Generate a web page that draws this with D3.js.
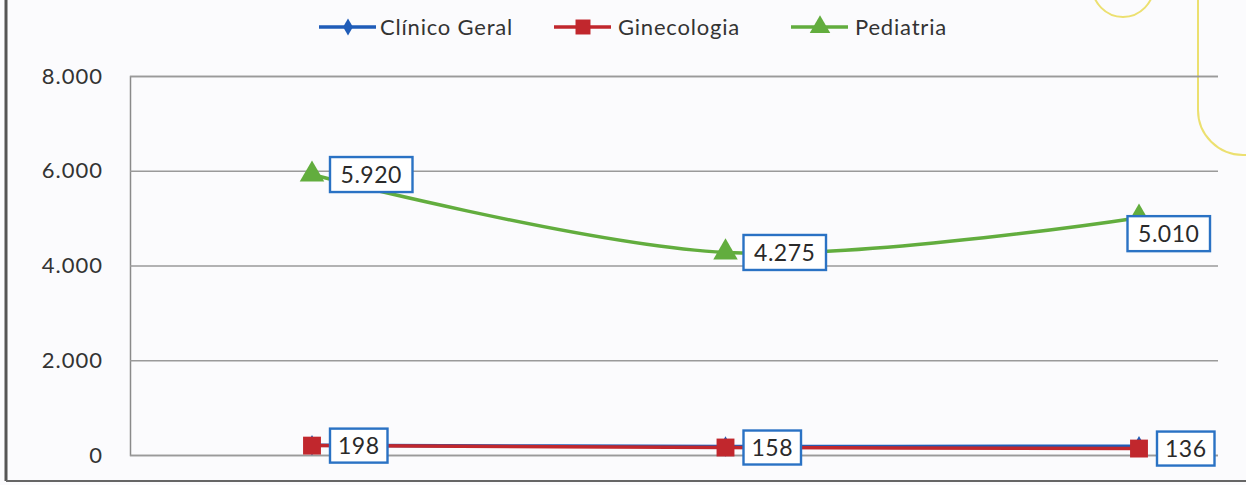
<!DOCTYPE html>
<html><head><meta charset="utf-8">
<script src="https://cdn.jsdelivr.net/npm/d3@7"></script>
<style>html,body{margin:0;padding:0;background:#fbfbfd;}svg{display:block;}</style>
</head><body><svg id="c" width="1246" height="485"></svg>
<script>
const categories = ["1", "2", "3"];
const clinicoGeral = [205, 180, 185];
const ginecologia = [198, 158, 136];
const pediatria = [5920, 4275, 5010];
const yTicks = [0, 2000, 4000, 6000, 8000];
const seriesNames = ["Clínico Geral", "Ginecologia", "Pediatria"];

(function () {
const colors = {"Clínico Geral": "#1f5cb8", "Ginecologia": "#c1272d", "Pediatria": "#62ad3e"};
const font = "Lato, 'Open Sans', sans-serif";
const svg = d3.select("#c");

const W = 1246, H = 485;
const pLeft = 130, pRight = 1218, pTop = 76, pBottom = 455;
const x = d3.scalePoint().domain(categories).range([312, 1139]).padding(0);
const y = d3.scaleLinear().domain([0, 8000]).range([pBottom, pTop]);

svg.append("rect").attr("width", W).attr("height", H).attr("fill", "#fbfbfd");

// decorative yellow shapes (scan)
svg.append("ellipse").attr("cx", 1123).attr("cy", -15).attr("rx", 31).attr("ry", 32)
  .attr("fill", "none").attr("stroke", "#ece070").attr("stroke-width", 2);
svg.append("path").attr("d", "M1198,0 V110 A45,45 0 0 0 1243,155 H1260")
  .attr("fill", "none").attr("stroke", "#ece070").attr("stroke-width", 2);

// frame
svg.append("line").attr("x1", 6).attr("x2", 6).attr("y1", 0).attr("y2", 481).attr("stroke", "#555").attr("stroke-width", 3);
svg.append("line").attr("x1", 6).attr("x2", W).attr("y1", 481).attr("y2", 481).attr("stroke", "#666").attr("stroke-width", 2);

// gridlines + axis
const yAxis = d3.axisLeft(y).tickValues(yTicks).tickSize(-(pRight - pLeft))
  .tickFormat(d => d3.format(",")(d).replace(/,/g, "."));
const ga = svg.append("g").attr("transform", `translate(${pLeft},0)`).call(yAxis);
ga.select(".domain").attr("stroke", "#8a8a8a").attr("stroke-width", 1.5);
ga.selectAll(".tick line").attr("stroke", "#9a9a9a").attr("stroke-width", 1.5);
ga.selectAll(".tick text").attr("x", -27).attr("font-family", font).attr("font-size", 22)
  .attr("letter-spacing", 1).attr("fill", "#333");

const data = [
  {name: seriesNames[0], values: clinicoGeral, marker: d3.symbolDiamond, size: 120},
  {name: seriesNames[1], values: ginecologia, marker: d3.symbolSquare, size: 320},
  {name: seriesNames[2], values: pediatria, marker: d3.symbolTriangle, size: 260}
];

const line = d3.line().x((d, i) => x(categories[i])).y(d => y(d)).curve(d3.curveCatmullRom.alpha(0.5));

data.forEach(s => {
  svg.append("path").datum(s.values).attr("d", line).attr("fill", "none")
    .attr("stroke", colors[s.name]).attr("stroke-width", 3.5);
});
data.forEach(s => {
  svg.selectAll(null).data(s.values).enter().append("path")
    .attr("d", d3.symbol().type(s.marker).size(s.size))
    .attr("transform", (d, i) => `translate(${x(categories[i])},${y(d)})`)
    .attr("fill", colors[s.name]);
});

function labels(values, boxH, fsize) {
  values.forEach((v, i) => {
    const px = x(categories[i]), py = y(v);
    const txt = d3.format(",")(v).replace(/,/g, ".");
    const w = txt.length * 12.5 + 20;
    let bx = px + 18;
    let cy = py;
    if (bx + w > pRight + 2) { bx = pRight - 8 - w; cy = py + 16; }
    svg.append("rect").attr("x", bx).attr("y", cy - boxH / 2).attr("width", w).attr("height", boxH)
      .attr("fill", "#fff").attr("stroke", "#2a72c4").attr("stroke-width", 2.4);
    svg.append("text").attr("x", bx + w / 2).attr("y", cy).attr("dy", "0.36em")
      .attr("text-anchor", "middle").attr("font-family", font).attr("font-size", fsize)
      .attr("letter-spacing", 0.5).attr("fill", "#2a2a2a").text(txt);
  });
}
labels(pediatria, 35, 23);
labels(ginecologia, 34, 23);

// legend
const legX = [319, 554, 791];
const legY = 27;
data.forEach((s, i) => {
  const g = svg.append("g").attr("transform", `translate(${legX[i]},${legY})`);
  g.append("line").attr("x1", 0).attr("x2", 57).attr("stroke", colors[s.name]).attr("stroke-width", 3.5);
  g.append("path").attr("d", d3.symbol().type(s.marker).size(s.size * 0.7)).attr("transform", "translate(29,0)")
    .attr("fill", colors[s.name]);
  g.append("text").attr("x", i === 0 ? 61 : 64).attr("dy", "0.35em").attr("font-family", font).attr("font-size", 22)
    .attr("letter-spacing", 0.8).attr("fill", "#333").text(s.name);
});
})();
</script></body></html>
